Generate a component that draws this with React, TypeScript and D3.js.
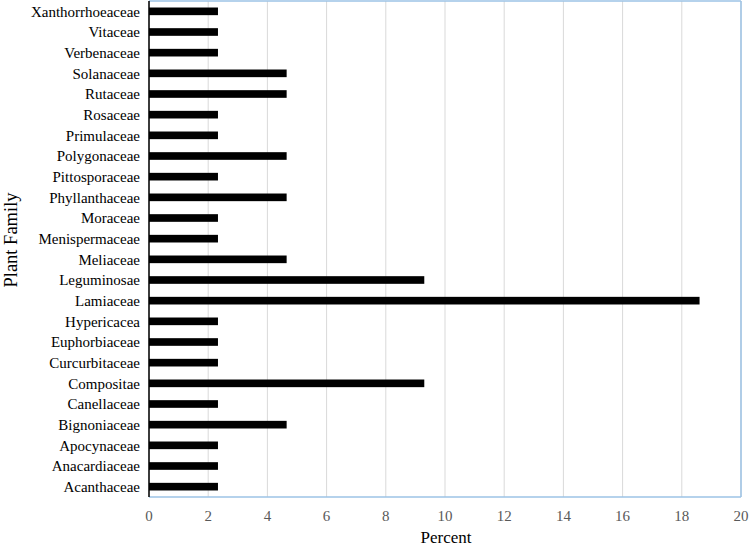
import React from "react";
import * as d3 from "d3";

const families = [
  "Xanthorrhoeaceae", "Vitaceae", "Verbenaceae", "Solanaceae", "Rutaceae", "Rosaceae",
  "Primulaceae", "Polygonaceae", "Pittosporaceae", "Phyllanthaceae", "Moraceae",
  "Menispermaceae", "Meliaceae", "Leguminosae", "Lamiaceae", "Hypericacea",
  "Euphorbiaceae", "Curcurbitaceae", "Compositae", "Canellaceae", "Bignoniaceae",
  "Apocynaceae", "Anacardiaceae", "Acanthaceae",
];
const percents = [
  2.33, 2.33, 2.33, 4.65, 4.65, 2.33,
  2.33, 4.65, 2.33, 4.65, 2.33,
  2.33, 4.65, 9.3, 18.6, 2.33,
  2.33, 2.33, 9.3, 2.33, 4.65,
  2.33, 2.33, 2.33,
];
const xTicks = [0, 2, 4, 6, 8, 10, 12, 14, 16, 18, 20];

export default function App() {
  const W = 750, H = 547;
  const left = 149, right = 741, top = 1, bottom = 497;
  const x = d3.scaleLinear().domain([0, 20]).range([left, right]);
  const y = d3.scaleBand<string>().domain(families).range([top, bottom]).paddingInner(0.63).paddingOuter(0.315);
  const font = "'Liberation Serif', 'Times New Roman', serif";
  return (
    <svg width={W} height={H} style={{ position: "absolute", left: 0, top: 0 }}>
      <rect x={0} y={0} width={W} height={H} fill="#fff" />
      {xTicks.map((t) => (
        <line key={"g" + t} x1={x(t)} x2={x(t)} y1={top} y2={bottom} stroke="#d9d9d9" strokeWidth={1} />
      ))}
      {families.map((f, i) => (
        <rect key={f} x={x(0)} y={y(f)!} width={x(percents[i]) - x(0)} height={y.bandwidth()} fill="#000" />
      ))}
      <line x1={left} x2={right} y1={top} y2={top} stroke="#9dc3e6" strokeWidth={1.5} />
      <line x1={right} x2={right} y1={top} y2={bottom} stroke="#9dc3e6" strokeWidth={1.5} />
      <line x1={left} x2={right} y1={bottom} y2={bottom} stroke="#9dc3e6" strokeWidth={1.5} />
      <line x1={left} x2={left} y1={top} y2={bottom} stroke="#000" strokeWidth={1.5} />
      {xTicks.map((t) => (
        <text key={"t" + t} x={x(t)} y={521} textAnchor="middle" fontFamily={font} fontSize={15} fill="#595959">{t}</text>
      ))}
      {families.map((f) => (
        <text key={"l" + f} x={140} y={y(f)! + y.bandwidth() / 2} dy="0.35em" textAnchor="end" fontFamily={font} fontSize={15} fill="#000">{f}</text>
      ))}
      <text x={446} y={543} textAnchor="middle" fontFamily={font} fontSize={17} fill="#000">Percent</text>
      <text transform="translate(17,240) rotate(-90)" textAnchor="middle" fontFamily={font} fontSize={18.5} fill="#000">Plant Family</text>
    </svg>
  );
}
